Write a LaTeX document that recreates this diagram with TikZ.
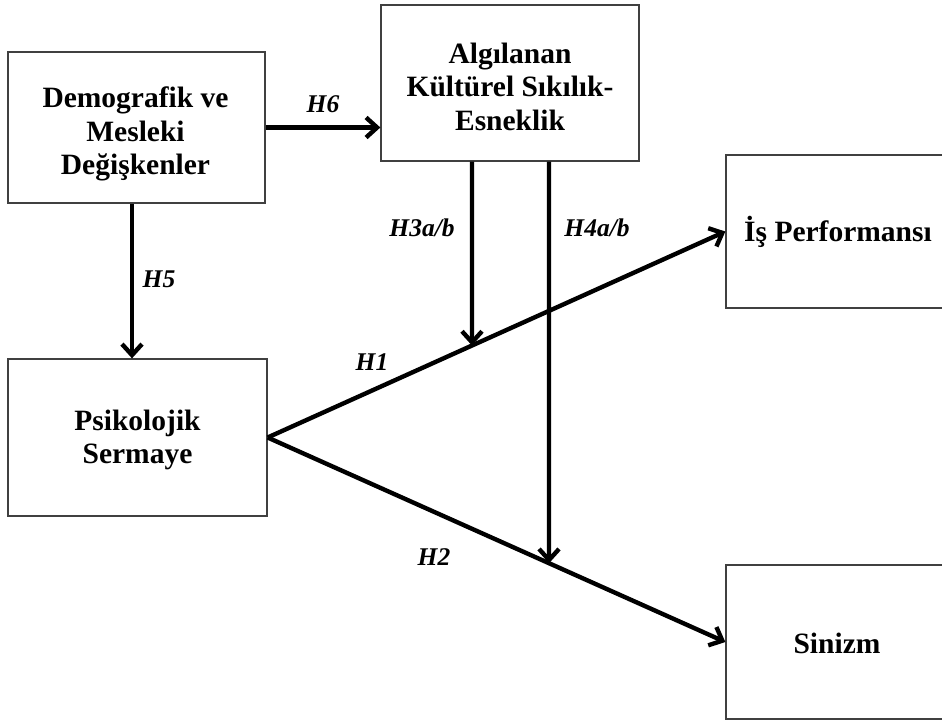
\documentclass[tikz,border=0pt]{standalone}
\usepackage{fontspec}
\setmainfont{Liberation Serif}
\usetikzlibrary{arrows.meta,calc}
\tikzset{
  box/.style={draw=black!75, line width=1.3pt, fill=white, inner sep=0pt},
  boxtext/.style={inner sep=0pt, align=center, font=\bfseries\fontsize{29.5}{33.5}\selectfont},
  arr/.style={line width=4.4pt, -{Straight Barb[length=11pt,width=20pt,line width=4.4pt]}},
  lab/.style={font=\bfseries\itshape\fontsize{25.5}{25.5}\selectfont, inner sep=0pt}
}
\begin{document}
\begin{tikzpicture}[x=1pt,y=-1pt]
\useasboundingbox (0,0) rectangle (942,720);
\node[box, minimum width=257pt, minimum height=151pt] (demo) at (136.5,127.5) {};
\node[boxtext] (demot) at (135.5,134) {Demografik ve\\Mesleki\\Değişkenler};
\node[box, minimum width=258pt, minimum height=156pt] (alg) at (510,83) {};
\node[boxtext] (algt) at (510,86.5) {Algılanan\\Kültürel Sıkılık-\\Esneklik};
\node[box, minimum width=224pt, minimum height=153pt] (perf) at (838,231.5) {};
\node[boxtext] (perft) at (838,231.5) {İş Performansı};
\node[box, minimum width=259pt, minimum height=157pt] (psy) at (137.5,437.5) {};
\node[boxtext] (psyt) at (137.5,440) {Psikolojik\\Sermaye};
\node[box, minimum width=224pt, minimum height=154pt] (sin) at (838,642) {};
\node[boxtext] (sint) at (837,643.5) {Sinizm};
\coordinate (h3x) at (472,400);
\coordinate (h4x) at (549,600);
\draw[arr] (demo.east) -- (demo.east -| alg.west);
\draw[arr] (demo.south -| 132,0) -- (psy.north -| 132,0);
\draw[arr] (psy.east) -- (perf.west);
\draw[arr] (psy.east) -- (sin.west);
\draw[arr] (alg.south -| h3x) -- (intersection of psy.east--perf.west and h3x--{alg.south -| h3x});
\draw[arr] (alg.south -| h4x) -- (intersection of psy.east--sin.west and h4x--{alg.south -| h4x});
\node[lab] (l6) at (323,104) {H6};
\node[lab] (l5) at (159,279) {H5};
\node[lab] (l3) at (422,228) {H3a/b};
\node[lab] (l4) at (597,228) {H4a/b};
\node[lab] (l1) at (372,362) {H1};
\node[lab] (l2) at (434,557) {H2};
\end{tikzpicture}
\end{document}
